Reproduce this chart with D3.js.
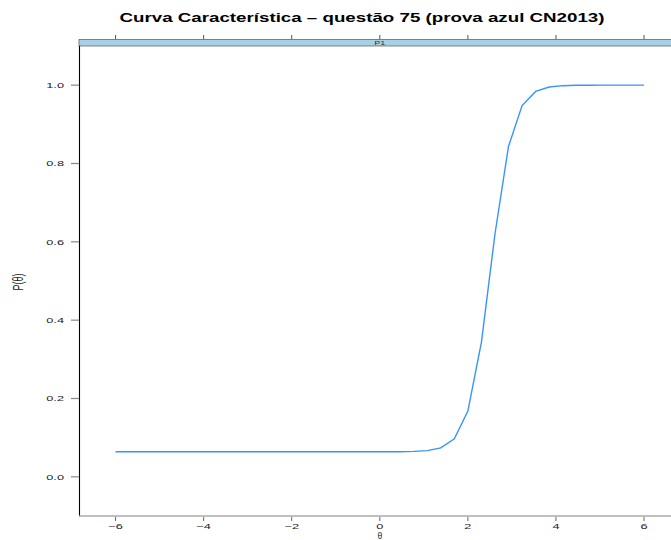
<!DOCTYPE html>
<html><head><meta charset="utf-8">
<script src="https://cdn.jsdelivr.net/npm/d3@7"></script>
<style>body{margin:0;background:#fff}svg{display:block}text{font-family:"Liberation Sans",Arial,Helvetica,sans-serif}</style>
</head><body><svg id="c" width="671" height="540"></svg>
<script>
const titleText = "Curva Característica – questão 75 (prova azul CN2013)";
const stripLabel = "P1";
const xLabel = "θ";
const yLabel = "P(θ)";
const xTicks = [-6, -4, -2, 0, 2, 4, 6];
const yTicks = [0.0, 0.2, 0.4, 0.6, 0.8, 1.0];
const theta = [-6.000,-5.692,-5.385,-5.077,-4.769,-4.462,-4.154,-3.846,-3.538,-3.231,
  -2.923,-2.615,-2.308,-2.000,-1.692,-1.385,-1.077,-0.769,-0.462,-0.154,
  0.154,0.462,0.769,1.077,1.385,1.692,2.000,2.308,2.615,2.923,
  3.231,3.538,3.846,4.154,4.462,4.769,5.077,5.385,5.692,6.000];
const prob = [0.064,0.064,0.064,0.064,0.064,0.064,0.064,0.064,0.064,0.064,
  0.064,0.064,0.064,0.064,0.064,0.064,0.064,0.064,0.064,0.064,
  0.0641,0.0642,0.0649,0.0669,0.0739,0.0969,0.168,0.344,0.620,0.844,
  0.948,0.984,0.9953,0.9987,0.9996,0.9999,1.0,1.0,1.0,1.0];

const svg = d3.select("#c");
const X0 = 79, X1 = 680.6, Y0 = 516, Y1 = 46;
const x = d3.scaleLinear().domain([-6.83, 6.83]).range([X0, X1]);
const y = d3.scaleLinear().domain([-0.1, 1.1]).range([Y0, Y1]);

function stretch(sel, f) {
  sel.each(function(){ const w = this.getComputedTextLength(); this.setAttribute("textLength", w * f); this.setAttribute("lengthAdjust", "spacingAndGlyphs"); });
}

// title
const t = svg.append("text").attr("x", 362).attr("y", 21.5).attr("text-anchor", "middle")
  .attr("font-weight", "bold").attr("font-size", 12.5).attr("fill", "#000").text(titleText);
t.attr("textLength", 485).attr("lengthAdjust", "spacingAndGlyphs");

// top ticks (above strip)
svg.append("g").selectAll("line").data(xTicks).join("line")
  .attr("x1", d => x(d)).attr("x2", d => x(d)).attr("y1", 35).attr("y2", 39.5)
  .attr("stroke", "#555").attr("stroke-width", 1);

// strip
svg.append("rect").attr("x", X0).attr("y", 39.5).attr("width", 700).attr("height", 6.5)
  .attr("fill", "#a6d0e6").attr("stroke", "#666").attr("stroke-width", 0.8);
const st = svg.append("text").attr("x", x(0)).attr("y", 45).attr("text-anchor", "middle")
  .attr("font-size", 6).attr("fill", "#333").text(stripLabel);
stretch(st, 1.5);

// panel border
svg.append("line").attr("x1", X0 + 0.5).attr("x2", X0 + 0.5).attr("y1", 46).attr("y2", Y0 + 0.5)
  .attr("stroke", "#000").attr("stroke-width", 1.1);
svg.append("line").attr("x1", X0).attr("x2", 700).attr("y1", Y0).attr("y2", Y0)
  .attr("stroke", "#aaa").attr("stroke-width", 1.6);

// bottom axis
const xb = svg.append("g");
xb.selectAll("line").data(xTicks).join("line")
  .attr("x1", d => x(d)).attr("x2", d => x(d)).attr("y1", Y0 + 1).attr("y2", Y0 + 5)
  .attr("stroke", "#666").attr("stroke-width", 1);
const xl = xb.selectAll("text").data(xTicks).join("text")
  .attr("x", d => x(d)).attr("y", 528.5).attr("text-anchor", "middle")
  .attr("font-size", 7.5).attr("fill", "#222").text(d => d3.format("")(d).replace("-", "−"));
stretch(xl, 1.7);

// left axis
const yb = svg.append("g");
yb.selectAll("line").data(yTicks).join("line")
  .attr("x1", X0 - 8).attr("x2", X0).attr("y1", d => y(d)).attr("y2", d => y(d))
  .attr("stroke", "#888").attr("stroke-width", 1.2);
const yl = yb.selectAll("text").data(yTicks).join("text")
  .attr("x", 64).attr("y", d => y(d) + 2.7).attr("text-anchor", "end")
  .attr("font-size", 7.5).attr("fill", "#222").text(d => d3.format(".1f")(d));
stretch(yl, 1.7);

// axis labels
svg.append("text").attr("transform", "translate(23,282) scale(1.6,1) rotate(-90)")
  .attr("text-anchor", "middle").attr("font-size", 9).attr("fill", "#222").text(yLabel);
svg.append("text").attr("x", x(0)).attr("y", 538.5).attr("text-anchor", "middle")
  .attr("font-size", 8.5).attr("fill", "#222").text(xLabel);

// curve
const line = d3.line().x((d, i) => x(theta[i])).y(d => y(d));
svg.append("path").datum(prob).attr("d", line).attr("fill", "none")
  .attr("stroke", "#3594ff").attr("stroke-width", 1.4);
</script></body></html>
